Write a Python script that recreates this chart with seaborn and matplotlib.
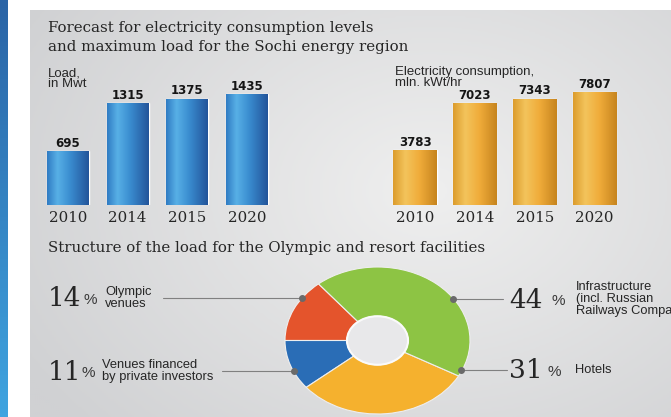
import numpy as np
import pandas as pd
import matplotlib
matplotlib.use("Agg")
import matplotlib.pyplot as plt
import seaborn as sns
from matplotlib.colors import LinearSegmentedColormap
from matplotlib.patches import Ellipse

# ---------------- data ----------------
years = ["2010", "2014", "2015", "2020"]
load_mw = [695, 1315, 1375, 1435]
consumption = [3783, 7023, 7343, 7807]
share_names = ["Olympic\nvenues", "Venues financed\nby private investors", "Hotels",
               "Infrastructure\n(incl. Russian\nRailways Company)"]
shares = [14, 11, 31, 44]
pie_colors = ["#e4542c", "#2a6db6", "#f5b12e", "#8dc444"]

W, H = 671, 417
sns.set_theme(style="white")
plt.rcParams["font.family"] = ["DejaVu Sans"]
SERIF = "DejaVu Serif"
SANS = "Liberation Sans"
TXT = "#262626"

fig = plt.figure(figsize=(W / 100, H / 100), dpi=100, facecolor="white")


def frac(x0, y0, x1, y1):
    return [x0 / W, 1 - y1 / H, (x1 - x0) / W, (y1 - y0) / H]


# ---------------- background ----------------
bg = fig.add_axes([0, 0, 1, 1], zorder=0)
bg.patch.set_facecolor("white")
stripe = np.linspace(0, 1, 100).reshape(-1, 1)
bg.imshow(stripe, extent=(0, 8, H, 0), aspect="auto",
          cmap=LinearSegmentedColormap.from_list("s", ["#2a64a6", "#3fa4e0"]))
yy, xx = np.mgrid[10:H:2, 30:W:2]
dist = np.hypot((xx - 430) / 430, (yy - 190) / 320)
bg.imshow(dist, extent=(30, W, H, 10), aspect="auto", vmin=0, vmax=1.1,
          cmap=LinearSegmentedColormap.from_list("p", ["#efefef", "#d0d1d3"]))
bg.set_xlim(0, W)
bg.set_ylim(H, 0)
bg.set_xticks([])
bg.set_yticks([])
for s in bg.spines.values():
    s.set_visible(False)

# ---------------- bar charts ----------------
blue_cm = LinearSegmentedColormap.from_list(
    "b", [(0, "#2f7bc3"), (0.25, "#58b0e6"), (0.55, "#3a8dd0"), (1, "#23549a")])
orange_cm = LinearSegmentedColormap.from_list(
    "o", [(0, "#dc9c2c"), (0.28, "#f3c45c"), (0.6, "#f0ac3a"), (1, "#c6841e")])


def bar_panel(values, cx_first, cx_last, px_per_unit, cmap, width):
    step = (cx_last - cx_first) / 3
    top, bottom = 80, 205
    ax = fig.add_axes(frac(cx_first - step / 2, top, cx_last + step / 2, bottom), zorder=1)
    ax.patch.set_alpha(0)
    df = pd.DataFrame({"year": years, "value": values})
    sns.barplot(data=df, x="year", y="value", ax=ax, color="#3a8fd0",
                width=width, saturation=1)
    g = np.linspace(0, 1, 256).reshape(1, -1)
    for p in ax.patches:
        x0, y0 = p.get_x(), p.get_y()
        im = ax.imshow(g, extent=(x0, x0 + p.get_width(), y0, y0 + p.get_height()),
                       cmap=cmap, aspect="auto", zorder=2, interpolation="bicubic")
        im.set_clip_path(p)
    ax.bar_label(ax.containers[0], labels=[str(v) for v in values], padding=1.0,
                 fontsize=8.5, fontweight="bold", color="#151515")
    ax.set_xlim(-0.5, 3.5)
    ax.set_ylim(0, (bottom - top) / px_per_unit)
    ax.set_xticks(range(len(years)))
    ax.set_xticklabels(years, fontfamily=SERIF, fontsize=10.8, color=TXT)
    ax.tick_params(axis="x", length=0, pad=4)
    ax.set_yticks([])
    ax.set_xlabel("")
    ax.set_ylabel("")
    sns.despine(ax=ax, left=True, bottom=True)
    return ax


bar_panel(load_mw, 68, 247, 111 / 1435, blue_cm, 0.70)
bar_panel(consumption, 415, 594.5, 113 / 7807, orange_cm, 0.72)

# ---------------- donut ----------------
axp = fig.add_axes(frac(285, 267, 470, 414), zorder=2)
wedges, _ = axp.pie(shares, colors=pie_colors, startangle=129.6, counterclock=True,
                    radius=1, wedgeprops=dict(width=0.67, edgecolor="#eeeeee", linewidth=0.8))
for w in wedges:
    w.set_clip_on(False)
axp.add_patch(Ellipse((0, 0), 0.66, 0.66, facecolor="#e8e8ea", edgecolor="#fafafa", lw=1.5))
axp.set_aspect("auto")
axp.set_xlim(-1, 1)
axp.set_ylim(-1, 1)
axp.axis("off")

# ---------------- foreground text / callouts ----------------
fg = fig.add_axes([0, 0, 1, 1], zorder=5)
fg.patch.set_alpha(0)
fg.set_xlim(0, W)
fg.set_ylim(H, 0)
fg.axis("off")

fg.text(48, 31.5, "Forecast for electricity consumption levels", family=SERIF,
        fontsize=10.8, color=TXT, va="baseline")
fg.text(48, 50.5, "and maximum load for the Sochi energy region", family=SERIF,
        fontsize=10.8, color=TXT, va="baseline")
fg.text(48, 76, "Load,", family=SANS, fontsize=9.5, color=TXT, va="baseline")
fg.text(48, 87, "in Mwt", family=SANS, fontsize=9.5, color=TXT, va="baseline")
fg.text(395, 75, "Electricity consumption,", family=SANS, fontsize=9.5, color=TXT,
        va="baseline")
fg.text(395, 86, "mln. kWt/hr", family=SANS, fontsize=9.5, color=TXT, va="baseline")
fg.text(48, 251.7, "Structure of the load for the Olympic and resort facilities",
        family=SERIF, fontsize=10.8, color=TXT, va="baseline")

# layout of callouts: (number x, % x, label x, y, line x0, dot x)
callouts = [
    (48, 83, 105, 298, 163, 302),
    (48, 81, 102, 371, 222, 294),
    (509, 547, 575, 370, 507, 461),
    (509, 551, 576, 299, 503, 453),
]
for (nx, px, lx, y, x0, xd), val, name in zip(callouts, shares, share_names):
    fg.plot([x0, xd], [y, y], color="#808080", lw=0.8)
    fg.plot([xd], [y], "o", ms=4, color="#6a6a6a")
    fg.text(nx, y + 1, str(val), family=SERIF, fontsize=19, color=TXT, va="center")
    fg.text(px, y + 2, "%", family=SANS, fontsize=11, color="#3a3a3a", va="center")
    fg.text(lx, y, name, family=SANS, fontsize=9.3, color=TXT, va="center",
            linespacing=0.95)

fig.savefig("out.png", dpi=100, facecolor="white")
